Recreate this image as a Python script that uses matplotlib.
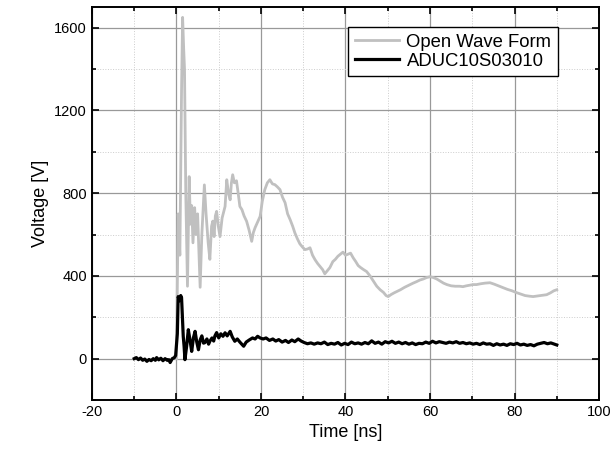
import matplotlib.pyplot as plt
from matplotlib.ticker import MultipleLocator

plt.rcParams['font.family'] = ['Liberation Sans', 'DejaVu Sans']
plt.rcParams['axes.unicode_minus'] = False

# Open wave form (grey)
t_open = [0.0, 0.4, 0.8, 1.2, 1.45, 1.7, 1.9, 2.2, 2.6, 3.0, 3.3, 3.6, 3.9, 4.3, 4.6,
          5.0, 5.6, 6.0, 6.6, 7.0, 7.5, 7.9, 8.3, 8.6, 8.9, 9.2, 9.5, 9.9, 10.3, 10.8,
          11.5, 11.9, 12.3, 12.7, 13.0, 13.3, 13.7, 14.2, 14.6, 15.0, 15.5, 16.0, 16.6,
          17.2, 17.8, 18.2, 18.6, 19.2, 19.8, 20.3, 20.9, 21.5, 22.1, 22.7, 23.3, 23.9,
          24.5, 25.1, 25.7, 26.3, 26.9, 27.5, 28.0, 28.6, 29.2, 29.8, 30.4, 31.0, 31.6,
          32.2, 32.8, 33.4, 34.0, 34.6, 35.1, 35.7, 36.3, 37.0, 37.6, 38.2, 38.8, 39.4,
          40.0, 40.6, 41.2, 41.8, 42.4, 43.0, 43.6, 44.3, 45.0, 45.8, 46.6, 47.4, 48.2,
          49.0, 49.6, 50.1, 50.8, 51.5, 52.2, 53.0, 54.0, 55.0, 56.0, 56.8, 57.6, 58.4,
          59.2, 60.0, 60.8, 61.6, 62.4, 63.2, 64.0, 65.0, 66.0, 67.0, 67.8, 68.6, 69.4,
          70.2, 71.0, 72.0, 73.0, 74.2, 75.2, 76.2, 77.3, 78.3, 79.4, 80.5, 81.5, 82.5,
          83.5, 84.4, 85.4, 86.5, 87.6, 88.5, 89.3, 90.0]
v_open = [0, 700, 500, 1300, 1650, 1500, 1400, 800, 350, 880, 650, 740, 560, 730, 600,
          700, 345, 600, 840, 700, 560, 480, 640, 665, 590, 690, 712, 640, 590, 680,
          736, 865, 800, 768, 850, 889, 850, 860, 800, 736, 720, 690, 664,
          620, 567, 610, 633, 660, 688, 760, 817, 850, 865, 845, 841, 830,
          817, 780, 754, 700, 672, 640, 609, 580, 555, 540, 527, 530, 536,
          500, 478, 460, 445, 430, 410, 425, 440, 469, 480, 495, 505, 515,
          500, 505, 510, 488, 470, 450, 440, 430, 421, 400, 375, 350, 333,
          320, 305, 300, 310, 318, 325, 333, 345, 355, 365, 372, 380, 385,
          392, 396, 392, 385, 375, 365, 358, 352, 350, 350, 348, 352, 355,
          358, 358, 362, 365, 367, 360, 352, 343, 335, 328, 319, 312, 305,
          302, 300, 303, 306, 309, 318, 328, 333]

# ADUC10S03010 (black)
t_dut = [-10, -9.5, -9, -8.5, -8, -7.5, -7, -6.5, -6, -5.5, -5, -4.7, -4.2, -3.7, -3.2,
         -2.7, -2.2, -1.8, -1.5, -1.0, -0.5, -0.2, 0.2, 0.4, 0.7, 1.0, 1.2, 1.4, 1.6,
         1.8, 2.0, 2.4, 2.8, 3.2, 3.6, 4.0, 4.4, 4.8, 5.2, 5.6, 6.0, 6.4, 6.7, 7.2, 7.6,
         7.9, 8.4, 8.8, 9.1, 9.5, 10.0, 10.5, 11.0, 11.5, 12.0, 12.7, 13.2, 13.8, 14.4,
         15.0, 15.9, 16.5, 17.2, 18.0, 18.6, 19.2, 19.8, 20.5, 21.2, 22.0, 22.8, 23.5,
         24.2, 25.0, 25.8, 26.5, 27.3, 28.0, 28.8, 29.5, 30.2, 31.0, 31.8, 32.6, 33.4,
         34.2, 35.0, 35.8, 36.6, 37.4, 38.2, 39.0, 39.8, 40.6, 41.4, 42.2, 43.0, 43.8,
         44.6, 45.4, 46.2, 47.0, 47.8, 48.6, 49.4, 50.2, 51.0, 51.8, 52.6, 53.4, 54.2,
         55.0, 55.8, 56.6, 57.4, 58.2, 59.0, 59.8, 60.6, 61.4, 62.2, 63.0, 63.8, 64.6,
         65.4, 66.2, 67.0, 67.8, 68.6, 69.4, 70.2, 71.0, 71.8, 72.6, 73.4, 74.2, 75.0,
         75.8, 76.6, 77.4, 78.2, 79.0, 79.8, 80.6, 81.4, 82.2, 83.0, 83.8, 84.6, 85.4,
         86.2, 87.0, 87.8, 88.6, 89.4, 90.0]
v_dut = [0, 5, -5, 3, -8, -2, -13, -4, -10, 0, -8, 5, -6, 2, -10,
         0, -8, -5, -19, 0, 5, 15, 120, 300, 280, 305, 295, 200, 108,
         60, -5, 60, 140, 90, 35, 100, 132, 80, 43, 90, 110, 75, 77, 95, 70,
         84, 100, 85, 110, 126, 100, 120, 108, 125, 110, 132, 105, 84, 95,
         80, 60, 80, 90, 100, 95, 108, 100, 95, 100, 88, 95, 85,
         92, 80, 88, 78, 90, 82, 95, 85, 78, 72, 76, 70, 76,
         72, 80, 68, 74, 70, 78, 66, 74, 68, 80, 72, 76, 70,
         78, 72, 86, 74, 80, 70, 82, 76, 84, 74, 80, 72, 78,
         70, 76, 68, 74, 72, 80, 74, 84, 76, 82, 78, 74, 80,
         76, 82, 74, 78, 72, 76, 70, 74, 68, 76, 70, 72, 64,
         72, 66, 70, 64, 72, 68, 74, 66, 70, 64, 68, 62, 70,
         74, 78, 72, 76, 70, 66]

fig = plt.figure(figsize=(6.14, 4.62), dpi=100)
ax = fig.add_axes([0.1498, 0.1342, 0.8258, 0.8506])

ax.plot(t_open, v_open, color='#c0c0c0', lw=2.0, label='Open Wave Form', zorder=3)
ax.plot(t_dut, v_dut, color='black', lw=2.3, label='ADUC10S03010', zorder=4)

ax.set_xlim(-20, 100)
ax.set_ylim(-200, 1700)
ax.xaxis.set_major_locator(MultipleLocator(20))
ax.xaxis.set_minor_locator(MultipleLocator(10))
ax.yaxis.set_major_locator(MultipleLocator(400))
ax.yaxis.set_minor_locator(MultipleLocator(200))

ax.grid(which='major', color='#999999', lw=0.9, ls='-', zorder=1)
ax.grid(which='minor', color='#cccccc', lw=0.7, ls=':', zorder=1)

ax.tick_params(which='both', direction='in', top=True, right=True, labelsize=10.5,
               color='black', width=1.2)
ax.tick_params(which='major', length=5)
ax.tick_params(which='minor', length=3)
for s in ax.spines.values():
    s.set_linewidth(1.4)

ax.set_xlabel('Time [ns]', fontsize=13)
ax.set_ylabel('Voltage [V]', fontsize=13)

leg = ax.legend(loc='upper right', bbox_to_anchor=(0.919, 0.949), borderaxespad=0,
                fontsize=13.3, fancybox=False, edgecolor='black', framealpha=1,
                handlelength=2.4, borderpad=0.35, labelspacing=0.12, handletextpad=0.4)
leg.get_frame().set_linewidth(1.0)

fig.savefig('out.png', dpi=100)
